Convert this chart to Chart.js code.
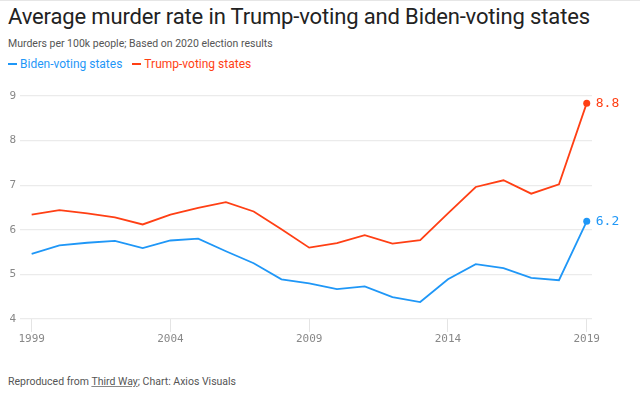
<!DOCTYPE html>
<html>
<head>
<meta charset="utf-8">
<script src="https://cdn.jsdelivr.net/npm/chart.js@4"></script>
<style>
  body { margin: 0; background: #fff; font-family: Roboto, "Liberation Sans", sans-serif; }
  .page { position: relative; width: 640px; height: 397px; border-top: 1px solid #e6e6e6; box-sizing: border-box; overflow: hidden; }
  .title { position: absolute; left: 8px; top: 3px; font-size: 22px; color: #222; white-space: nowrap; letter-spacing: -0.15px; }
  .subtitle { position: absolute; left: 8px; top: 36px; font-size: 10.5px; color: #555; white-space: nowrap; }
  .legend { position: absolute; left: 8px; top: 56px; font-size: 12px; white-space: nowrap; }
  .legend .item { margin-right: 7px; }
  .legend .swatch { display: inline-block; width: 9px; height: 2px; vertical-align: middle; margin-right: 3px; position: relative; top: -1px; }
  .footer { position: absolute; left: 8px; top: 374px; font-size: 10.5px; color: #555; white-space: nowrap; }
  .footer u { text-decoration-color: #888; }
  .chart-box { position: absolute; left: 0; top: 80px; width: 640px; height: 270px; }
</style>
</head>
<body>
<div class="page">
  <div class="title">Average murder rate in Trump-voting and Biden-voting states</div>
  <div class="subtitle">Murders per 100k people; Based on 2020 election results</div>
  <div class="legend">
    <span class="item" style="color:#1f97f7"><span class="swatch" style="background:#1f97f7"></span>Biden-voting states</span>
    <span class="item" style="color:#ff3f14"><span class="swatch" style="background:#ff3f14"></span>Trump-voting states</span>
  </div>
  <div class="chart-box"><canvas id="murder-chart"></canvas></div>
  <div class="footer">Reproduced from <u>Third Way</u>; Chart: Axios Visuals</div>
</div>

<script>
// data
let years = [1999, 2000, 2001, 2002, 2003, 2004, 2005, 2006, 2007, 2008, 2009,
             2010, 2011, 2012, 2013, 2014, 2015, 2016, 2017, 2018, 2019]
let biden_rate = [5.46, 5.65, 5.71, 5.75, 5.59, 5.76, 5.80, 5.52, 5.25, 4.89, 4.80,
                  4.67, 4.73, 4.49, 4.38, 4.89, 5.23, 5.14, 4.92, 4.87, 6.19]
let trump_rate = [6.34, 6.44, 6.37, 6.28, 6.12, 6.34, 6.49, 6.62, 6.41, 6.01, 5.60,
                  5.70, 5.88, 5.69, 5.77, 6.37, 6.96, 7.11, 6.81, 7.02, 8.84]
let x_ticks = [1999, 2004, 2009, 2014, 2019]
let y_ticks = [4, 5, 6, 7, 8, 9]

let blue = '#1f97f7'
let red = '#ff3f14'
let mono = '"DejaVu Sans Mono", "Liberation Mono", monospace'

let toPoints = (values) => values.map((v, i) => ({ x: years[i], y: v }))
let lastOnly = (values, r) => values.map((v, i) => i == values.length - 1 ? r : 0)

// end labels "8.8" / "6.2" next to the last point
let endLabels = {
  id: 'endLabels',
  afterDatasetsDraw(chart) {
    let ctx = chart.ctx
    ctx.save()
    ctx.font = '13px ' + mono
    ctx.textBaseline = 'middle'
    chart.data.datasets.forEach((ds, i) => {
      let meta = chart.getDatasetMeta(i)
      let pt = meta.data[meta.data.length - 1]
      let val = ds.data[ds.data.length - 1].y
      ctx.fillStyle = ds.borderColor
      ctx.fillText(val.toFixed(1), pt.x + 9, pt.y)
    })
    ctx.restore()
  }
}

let chart = new Chart(document.querySelector('#murder-chart'), {
  type: 'line',
  data: {
    datasets: [
      {
        label: 'Biden-voting states',
        data: toPoints(biden_rate),
        borderColor: blue,
        backgroundColor: blue,
        borderWidth: 1.8,
        pointRadius: lastOnly(biden_rate, 3.5),
        pointBorderWidth: 0,
        tension: 0
      },
      {
        label: 'Trump-voting states',
        data: toPoints(trump_rate),
        borderColor: red,
        backgroundColor: red,
        borderWidth: 1.8,
        pointRadius: lastOnly(trump_rate, 3.5),
        pointBorderWidth: 0,
        tension: 0
      }
    ]
  },
  options: {
    responsive: true,
    maintainAspectRatio: false,
    animation: false,
    layout: { padding: { left: 4, right: 48, top: 15, bottom: 0 } },
    plugins: {
      legend: { display: false },
      tooltip: { enabled: false }
    },
    scales: {
      x: {
        type: 'linear',
        min: 1998.58,
        max: 2019.19,
        afterBuildTicks: (scale) => { scale.ticks = x_ticks.map(v => ({ value: v })) },
        afterFit: (scale) => { scale.height = 32 },
        border: { display: false },
        grid: { drawOnChartArea: false, drawTicks: true, tickLength: 13, color: '#e4e4e4' },
        ticks: {
          padding: 1,
          color: '#888',
          font: { family: mono, size: 11 },
          maxRotation: 0,
          callback: (v) => String(v)
        }
      },
      y: {
        min: 4,
        max: 9,
        afterBuildTicks: (scale) => { scale.ticks = y_ticks.map(v => ({ value: v })) },
        afterFit: (scale) => { scale.width = 16 },
        border: { display: false },
        grid: { color: '#ebebeb', drawTicks: false, lineWidth: 1.2 },
        ticks: {
          padding: 4,
          color: '#888',
          font: { family: mono, size: 11 }
        }
      }
    }
  },
  plugins: [endLabels]
})
</script>
</body>
</html>
